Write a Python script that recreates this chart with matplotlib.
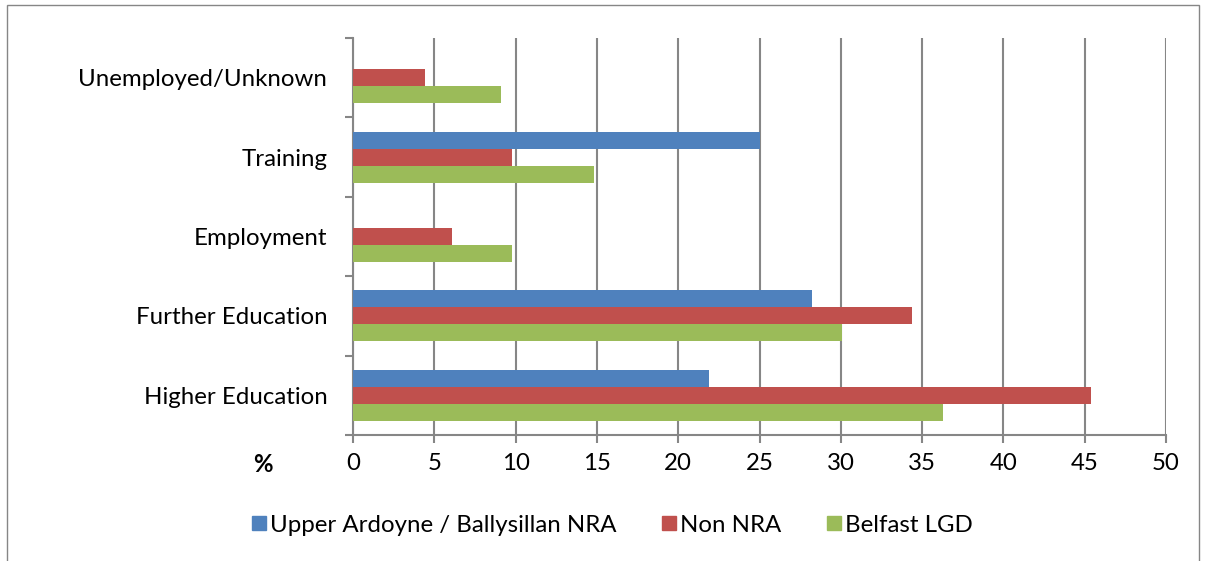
import matplotlib
matplotlib.use("Agg")
import matplotlib.pyplot as plt
import numpy as np
from matplotlib.patches import Rectangle
from matplotlib.lines import Line2D

categories = ["Higher Education", "Further Education", "Employment", "Training", "Unemployed/Unknown"]
series_names = ["Upper Ardoyne / Ballysillan NRA", "Non NRA", "Belfast LGD"]
upper_ardoyne = [21.9, 28.2, 0.0, 25.0, 0.0]
non_nra = [45.4, 34.4, 6.1, 9.8, 4.4]
belfast_lgd = [36.3, 30.1, 9.8, 14.8, 9.1]
colors = ["#4F81BD", "#C0504D", "#9BBB59"]
xticks = list(range(0, 51, 5))

plt.rcParams['font.family'] = ['Lato', 'DejaVu Sans']
FS = 17.3

W, H = 1207, 561
fig = plt.figure(figsize=(W / 100, H / 100), dpi=100)
ax = fig.add_axes([353 / W, 1 - 435 / H, (1166 - 353) / W, (435 - 38) / H])

y = np.arange(len(categories))
bh = 0.214
for i, (vals, c) in enumerate(zip([upper_ardoyne, non_nra, belfast_lgd], colors)):
    ax.barh(y + (1 - i) * bh, vals, height=bh, color=c, zorder=3, label=series_names[i])

ax.set_xlim(0, 50)
ax.set_ylim(-0.5, len(categories) - 0.5)
ax.set_xticks(xticks)
ax.set_xticklabels([str(t) for t in xticks], fontsize=FS)
ax.set_yticks(y)
ax.set_yticklabels(categories, fontsize=FS)
ax.tick_params(axis='y', length=0, pad=18.5)
ax.set_yticks(np.arange(-0.5, len(categories)), minor=True)
ax.tick_params(axis='y', which='minor', length=6, color='#868686', width=1.5, direction='out')
ax.tick_params(axis='x', length=6, color='#868686', width=1.5, direction='out', pad=7)
ax.grid(axis='x', color='#868686', linewidth=1.5, zorder=0)
for s in ['top', 'right']:
    ax.spines[s].set_visible(False)
for s in ['left', 'bottom']:
    ax.spines[s].set_color('#868686')
    ax.spines[s].set_linewidth(1.5)

fig.text(263 / W, 1 - 465 / H, "%", fontsize=FS, fontweight='bold', ha='center', va='center')

handles = [Line2D([], [], linestyle='none', marker='s', markersize=9.5,
                  markerfacecolor=c, markeredgecolor=c) for c in colors]
fig.legend(handles, series_names, loc='center', bbox_to_anchor=(612 / W, 1 - 525 / H), ncol=3,
           frameon=False, fontsize=FS, handlelength=0.6,
           handletextpad=0.15, columnspacing=1.9)

fig.add_artist(Rectangle((7 / W, -0.01), (1199 - 7) / W, 1 - 5 / H + 0.01,
                         transform=fig.transFigure, fill=False, edgecolor='#868686', linewidth=1))

fig.savefig("out.png", dpi=100)
